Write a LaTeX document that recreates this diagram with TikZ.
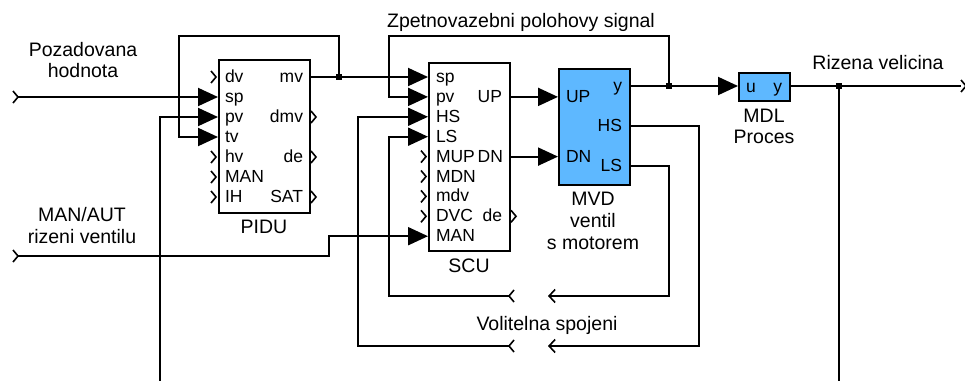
\documentclass[tikz,border=0pt]{standalone}
\usepackage{fontspec}
\setmainfont{Liberation Sans}
\usetikzlibrary{arrows.meta}
\definecolor{blkfill}{RGB}{94,184,255}
\newcommand\pfnt{\fontsize{17.5}{20}\selectfont}
\newcommand\afnt{\fontsize{19.5}{23}\selectfont}
\tikzset{
  pics/chevr/.style={code={\draw[line width=1.6pt] (-5,-6) -- (0,0) -- (-5,6);}},
  pics/chevl/.style={code={\draw[line width=1.6pt] (5,-6) -- (0,0) -- (5,6);}},
  pics/junc/.style={code={\fill (-2.8,-2.8) rectangle (2.8,2.8);}},
}
\begin{document}
\begin{tikzpicture}[x=1pt,y=-1pt,line width=2pt,
  blockbox/.style={draw,line width=1.9pt,inner sep=0,anchor=north west},
  pl/.style={font=\pfnt,inner sep=0,anchor=base west},
  pr/.style={font=\pfnt,inner sep=0,anchor=base east},
  ann/.style={font=\afnt,inner sep=0,anchor=base},
  sig/.style={line width=2pt,-{Triangle[length=20pt,width=18pt]}},
  open/.style={line width=2pt,-{Straight Barb[length=6pt,width=13pt,line width=1.6pt]}},
  wire/.style={line width=2pt}]
\useasboundingbox (0,0) rectangle (965,380);
\clip (0,0) rectangle (965,380);

% ---------- blocks ----------
\node[blockbox,minimum width=91pt,minimum height=153pt] (pidu) at (218,59) {};
\node[blockbox,minimum width=81pt,minimum height=188pt] (scu) at (428,62) {};
\node[blockbox,fill=blkfill,minimum width=71pt,minimum height=116pt] (mvd) at (558,68) {};
\node[blockbox,fill=blkfill,minimum width=51pt,minimum height=28pt] (mdl) at (738,72) {};

% ---------- PIDU ports ----------
\coordinate (pidu-dv) at (218,77);
\coordinate (pidu-sp) at (218,97);
\coordinate (pidu-pv) at (218,117);
\coordinate (pidu-tv) at (218,137);
\coordinate (pidu-hv) at (218,157);
\coordinate (pidu-man) at (218,177);
\coordinate (pidu-ih) at (218,197);
\coordinate (pidu-mv) at (309,77);
\coordinate (pidu-dmv) at (309,117);
\coordinate (pidu-de) at (309,157);
\coordinate (pidu-sat) at (309,197);
\node[pl] (pl1) at (224,82.5) {dv};
\node[pl] (pl2) at (224,102.5) {sp};
\node[pl] (pl3) at (224,122.5) {pv};
\node[pl] (pl4) at (224,142.5) {tv};
\node[pl] (pl5) at (224,162.5) {hv};
\node[pl] (pl6) at (224,182.5) {MAN};
\node[pl] (pl7) at (224,202.5) {IH};
\node[pr] (pr1) at (304,82.5) {mv};
\node[pr] (pr2) at (304,122.5) {dmv};
\node[pr] (pr3) at (304,162.5) {de};
\node[pr] (pr4) at (304,202.5) {SAT};
\pic at (216,77) {chevr};
\pic at (216,157) {chevr};
\pic at (216,177) {chevr};
\pic at (216,197) {chevr};
\pic at (316,117) {chevr};
\pic at (316,157) {chevr};
\pic at (316,197) {chevr};
\node[ann] (piduname) at (264,233) {PIDU};

% ---------- SCU ports ----------
\coordinate (scu-sp) at (428,77);
\coordinate (scu-pv) at (428,96.9);
\coordinate (scu-hs) at (428,116.8);
\coordinate (scu-ls) at (428,136.7);
\coordinate (scu-man) at (428,236.2);
\coordinate (scu-up) at (509,96.9);
\coordinate (scu-dn) at (509,156.6);
\node[pl] (sl1) at (435,82.5) {sp};
\node[pl] (sl2) at (435,102.4) {pv};
\node[pl] (sl3) at (435,122.3) {HS};
\node[pl] (sl4) at (435,142.2) {LS};
\node[pl] (sl5) at (435,162.1) {MUP};
\node[pl] (sl6) at (435,182.0) {MDN};
\node[pl] (sl7) at (435,201.9) {mdv};
\node[pl] (sl8) at (435,221.8) {DVC};
\node[pl] (sl9) at (435,241.7) {MAN};
\node[pr] (sr1) at (503,102.4) {UP};
\node[pr] (sr2) at (504,162.1) {DN};
\node[pr] (sr3) at (503,221.8) {de};
\pic at (426,156.6) {chevr};
\pic at (426,176.5) {chevr};
\pic at (426,196.4) {chevr};
\pic at (426,216.3) {chevr};
\pic at (516,216.3) {chevr};
\node[ann] (scuname) at (469,272) {SCU};

% ---------- MVD ports ----------
\coordinate (mvd-up) at (558,96.9);
\coordinate (mvd-dn) at (558,156.6);
\coordinate (mvd-y) at (629,86);
\coordinate (mvd-hs) at (629,126);
\coordinate (mvd-ls) at (629,166);
\node[pl] (ml1) at (565,102.4) {UP};
\node[pl] (ml2) at (565,162.1) {DN};
\node[pr] (mr1) at (623,91) {y};
\node[pr] (mr2) at (623,131.5) {HS};
\node[pr] (mr3) at (623,171.5) {LS};
\node[ann] (mvdn1) at (593,205) {MVD};
\node[ann] (mvdn2) at (593,227) {ventil};
\node[ann] (mvdn3) at (593,249) {s motorem};

% ---------- MDL ports ----------
\coordinate (mdl-u) at (738,86);
\coordinate (mdl-y) at (789,86);
\node[pl] (dl1) at (745,92) {u};
\node[pr] (dr1) at (783,92) {y};
\node[ann] (mdln1) at (764,122) {MDL};
\node[ann] (mdln2) at (764,143) {Proces};

% ---------- annotations ----------
\node[ann] (t1) at (83,56) {Pozadovana};
\node[ann] (t2) at (83,77) {hodnota};
\node[ann] (t3) at (82,221) {MAN/AUT};
\node[ann] (t4) at (82,243) {rizeni ventilu};
\node[ann] (t5) at (521,27) {Zpetnovazebni polohovy signal};
\node[ann] (t6) at (878,69) {Rizena velicina};
\node[ann] (t7) at (547,330) {Volitelna spojeni};

% ---------- free ends and junctions ----------
\coordinate (in1) at (18,97);
\coordinate (in2) at (18,256);
\coordinate (out1) at (961,86);
\coordinate (j1) at (339,77);
\coordinate (j2) at (669,86);
\coordinate (j3) at (839,86);
\coordinate (v1l) at (509,296);
\coordinate (v1r) at (548,296);
\coordinate (v2l) at (509,346);
\coordinate (v2r) at (548,346);
\pic at (in1) {chevr};
\pic at (in2) {chevr};
\pic at (966,86) {chevr};
\pic at (v1l) {chevl};
\pic at (v2l) {chevl};

% ---------- connectors ----------
\draw[sig] (in1) -- (pidu-sp);
\draw[sig] (pidu-mv) -- (scu-sp);
\draw[sig] (j1) |- (179,36) |- (pidu-tv);
\draw[sig] (scu-up) -- (mvd-up);
\draw[sig] (scu-dn) -- (mvd-dn);
\draw[sig] (mvd-y) -- (mdl-u);
\draw[sig] (j2) |- (389,36) |- (scu-pv);
\draw[wire] (mdl-y) -- (out1);
\draw[sig] (j3) |- (160,392) |- (pidu-pv);
\draw[sig] (in2) -- (329,256) |- (scu-man);
\draw[open] (mvd-ls) -| (669,296) -- (v1r);
\draw[sig] (v1l) -- (389,296) |- (scu-ls);
\draw[open] (mvd-hs) -| (699,346) -- (v2r);
\draw[sig] (v2l) -- (358,346) |- (scu-hs);
\pic at (j1) {junc};
\pic at (j2) {junc};
\pic at (j3) {junc};
\end{tikzpicture}
\end{document}
